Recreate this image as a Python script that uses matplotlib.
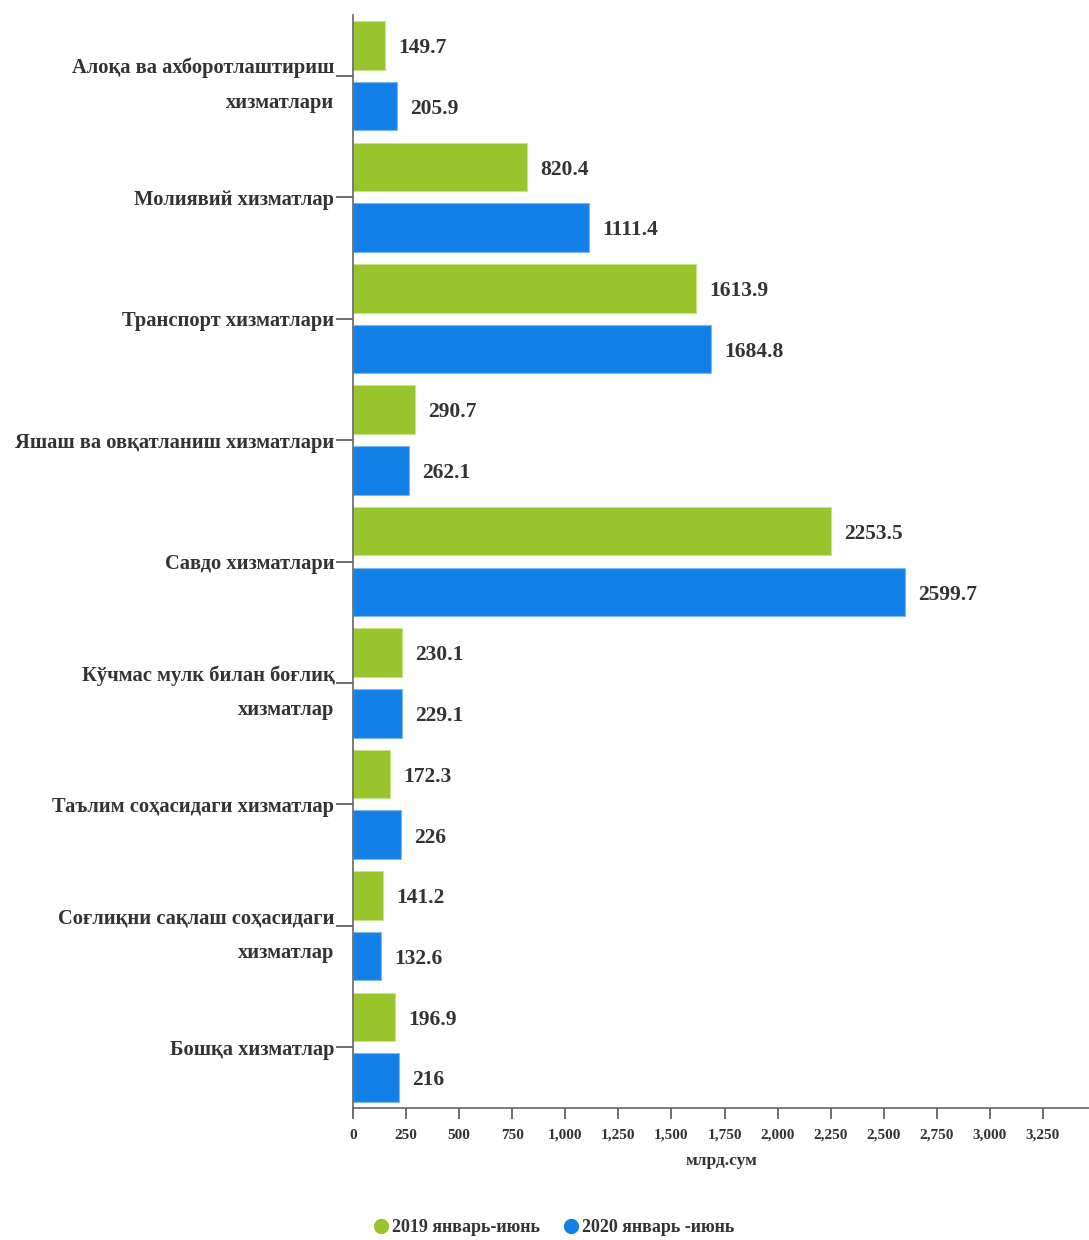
import matplotlib
matplotlib.use("Agg")
import matplotlib.pyplot as plt
import numpy as np
from matplotlib.lines import Line2D

plt.rcParams['font.family'] = ['Liberation Serif', 'DejaVu Serif']
plt.rcParams['font.weight'] = 'bold'

Categories = ["Алоқа ва ахборотлаштириш\nхизматлари",
              "Молиявий хизматлар",
              "Транспорт хизматлари",
              "Яшаш ва овқатланиш хизматлари",
              "Савдо хизматлари",
              "Кўчмас мулк билан боғлиқ\nхизматлар",
              "Таълим соҳасидаги хизматлар",
              "Соғлиқни сақлаш соҳасидаги\nхизматлар",
              "Бошқа хизматлар"]
Y2019 = [149.7, 820.4, 1613.9, 290.7, 2253.5, 230.1, 172.3, 141.2, 196.9]
Y2020 = [205.9, 1111.4, 1684.8, 262.1, 2599.7, 229.1, 226, 132.6, 216]
Series = ["2019 январь-июнь", "2020 январь -июнь"]
Ticks = [0, 250, 500, 750, 1000, 1250, 1500, 1750, 2000, 2250, 2500, 2750, 3000, 3250]

green = '#97c52b'
blue = '#1380e8'
txt = '#333333'

fig = plt.figure(figsize=(10.89, 12.40), dpi=100)
ax = fig.add_axes([353/1089, 1-1108/1240, 1-353/1089, (1108-15)/1240])

pos = np.arange(len(Categories))
ax.barh(pos-0.25, Y2019, height=0.40, color=green, edgecolor='#c8e38a', linewidth=0.8)
ax.barh(pos+0.25, Y2020, height=0.40, color=blue, edgecolor='#7fb8f0', linewidth=0.8)

for i in range(len(Categories)):
    ax.annotate(f"{Y2019[i]}", (Y2019[i], pos[i]-0.25), xytext=(9.5, -2), textcoords='offset points',
                va='center', ha='left', fontsize=15.5, color=txt, fontweight='bold')
    ax.annotate(f"{Y2020[i]}", (Y2020[i], pos[i]+0.25), xytext=(9.5, -2), textcoords='offset points',
                va='center', ha='left', fontsize=15.5, color=txt, fontweight='bold')

ax.set_xlim(0, 3467)
ax.set_ylim(len(Categories)-0.5, -0.5)
ax.set_yticks(pos)
ax.set_yticklabels(Categories, fontsize=14.8, color=txt, fontweight='bold', linespacing=1.95)
ax.set_xticks(Ticks)
ax.set_xticklabels([f"{t:,}" for t in Ticks], fontsize=11, color=txt, fontweight='bold')
ax.tick_params(axis='y', length=12, width=1.2, color='#555555', pad=1.5)
ax.tick_params(axis='x', length=8, width=1.2, color='#555555', pad=7)
ax.set_xlabel("млрд.сум", fontsize=12.5, color=txt, fontweight='bold', labelpad=8)

for s in ['top', 'right']:
    ax.spines[s].set_visible(False)
ax.spines['left'].set_color('#666666')
ax.spines['bottom'].set_color('#666666')
ax.spines['left'].set_linewidth(1.2)
ax.spines['bottom'].set_linewidth(1.2)

handles = [Line2D([], [], marker='o', linestyle='none', markersize=10, color=green),
           Line2D([], [], marker='o', linestyle='none', markersize=10, color=blue)]
leg = fig.legend(handles, Series, loc='center', bbox_to_anchor=(553/1089, 1-1228/1240),
                 ncol=2, frameon=False, fontsize=13, handletextpad=0.1, columnspacing=1.2,
                 handlelength=1.0)
for t in leg.get_texts():
    t.set_color(txt)
    t.set_fontweight('bold')

fig.savefig("out.png", dpi=100)
